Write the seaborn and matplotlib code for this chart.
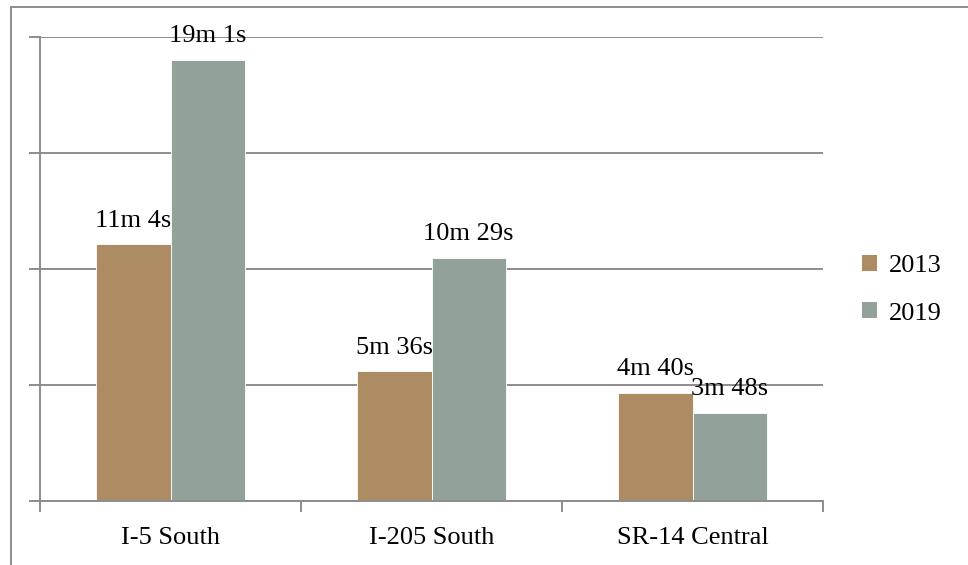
import pandas as pd
import matplotlib.pyplot as plt
import seaborn as sns
from matplotlib.lines import Line2D

# Data: travel times in seconds
routes = ['I-5 South', 'I-205 South', 'SR-14 Central']
years = ['2013', '2019']
secs_2013 = [664, 336, 280]
secs_2019 = [1141, 629, 228]
labels_2013 = ['11m 4s', '5m 36s', '4m 40s']
labels_2019 = ['19m 1s', '10m 29s', '3m 48s']
colors = ['#AD8C64', '#93A299']

df = pd.DataFrame({
    'route': routes * 2,
    'year': [years[0]] * 3 + [years[1]] * 3,
    'secs': secs_2013 + secs_2019,
    'label': labels_2013 + labels_2019,
})

sns.set_style('white')
plt.rcParams['font.family'] = ['Liberation Serif', 'DejaVu Serif']
plt.rcParams['text.color'] = 'black'

fig = plt.figure(figsize=(9.68, 5.65), dpi=100)
ax = fig.add_axes([40 / 968, 1 - 501 / 565, (823 - 40) / 968, (501 - 37) / 565])

sns.barplot(data=df, x='route', y='secs', hue='year', palette=colors,
            saturation=1, width=0.57, edgecolor='white', linewidth=0.6, ax=ax)

gray = '#8C8C8C'
ax.set_ylim(0, 1200)
ax.set_xlim(-0.5, 2.5)
ax.set_yticks([0, 300, 600, 900, 1200])
ax.set_yticklabels([])
ax.yaxis.grid(True, color=gray, linewidth=1.4)
ax.set_axisbelow(True)
ax.tick_params(axis='y', length=8, width=1.4, color=gray, left=True)
ax.set_xticks([-0.5, 0.5, 1.5, 2.5], minor=True)
ax.tick_params(axis='x', which='minor', length=8, width=1.4, color=gray, bottom=True)
ax.tick_params(axis='x', which='major', length=0, labelsize=19, pad=19, labelcolor='black')
ax.set_xlabel('')
ax.set_ylabel('')
for side in ['top', 'right']:
    ax.spines[side].set_visible(False)
for side in ['left', 'bottom']:
    ax.spines[side].set_color(gray)
    ax.spines[side].set_linewidth(1.4)

# data labels
for container, labs in zip(ax.containers, [labels_2013, labels_2019]):
    for bar, lab in zip(container, labs):
        ax.annotate(lab, (bar.get_x() + bar.get_width() / 2, bar.get_height()),
                    xytext=(0, 12.5), textcoords='offset points',
                    ha='center', va='baseline', fontsize=19, color='black')

leg = ax.legend(loc='center left', bbox_to_anchor=(1.02, 0.455), frameon=False,
                fontsize=19, handlelength=0.55, handleheight=0.55,
                handletextpad=0.45, labelspacing=0.95)
for h in leg.legend_handles:
    h.set_edgecolor('none')

# outer chart border (left and top edges)
fig.add_artist(Line2D([11 / 968, 11 / 968], [0, 1 - 7 / 565], color=gray, linewidth=1.4))
fig.add_artist(Line2D([11 / 968, 1], [1 - 7 / 565, 1 - 7 / 565], color=gray, linewidth=1.4))

fig.savefig('out.png', dpi=100)
